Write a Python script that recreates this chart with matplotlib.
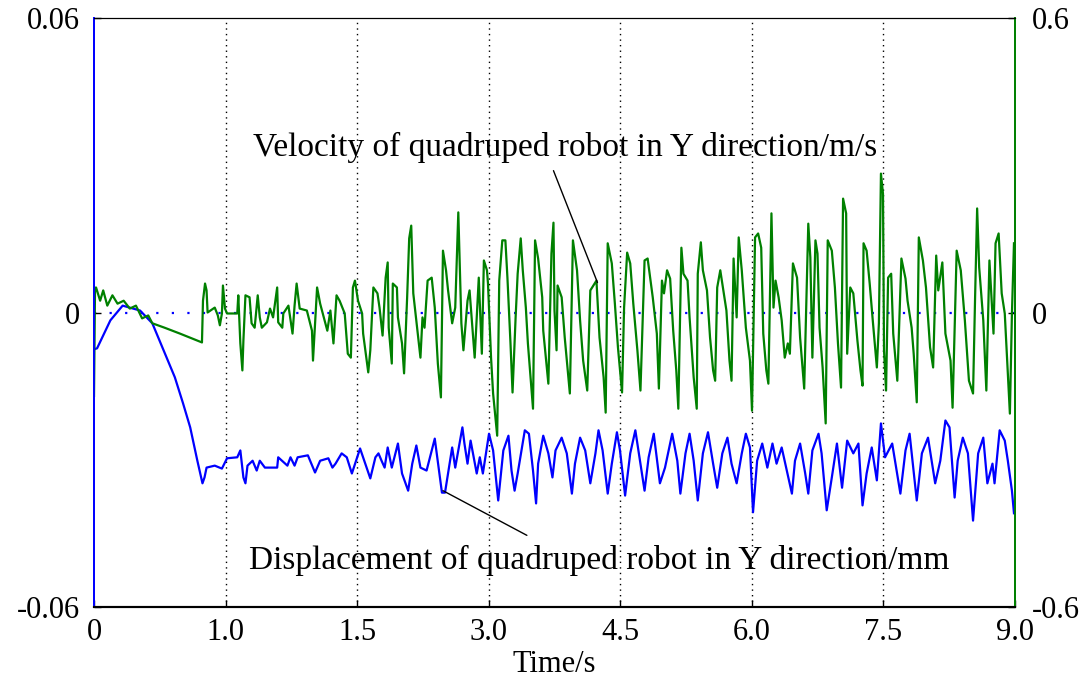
import matplotlib
matplotlib.use("Agg")
import matplotlib.pyplot as plt
import numpy as np

# ---------------- data ----------------
# velocity of quadruped robot in Y direction (m/s), right axis
vel_t = [0.00, 0.01, 0.02, 0.06, 0.09, 0.13, 0.18, 0.23, 0.29, 0.35, 0.41, 0.47, 0.53, 0.57, 0.69, 0.84,
         1.055, 1.065, 1.085, 1.10, 1.11, 1.18, 1.21, 1.23, 1.25, 1.26, 1.28, 1.30, 1.40, 1.41, 1.43, 1.45,
         1.46, 1.48, 1.52, 1.54, 1.57, 1.60, 1.62, 1.64, 1.69, 1.72, 1.75, 1.79, 1.80, 1.84, 1.85, 1.90,
         1.94, 1.96, 1.98, 2.01, 2.08, 2.13, 2.14, 2.18, 2.21, 2.28, 2.31, 2.34, 2.37, 2.40, 2.45, 2.48,
         2.51, 2.53, 2.55, 2.58, 2.62, 2.63, 2.68, 2.70, 2.73, 2.77, 2.79, 2.82, 2.85, 2.87, 2.88, 2.91,
         2.92, 2.96, 2.97, 3.01, 3.03, 3.06, 3.08, 3.10, 3.12, 3.16, 3.19, 3.21, 3.23, 3.26, 3.30, 3.33,
         3.36, 3.39, 3.41, 3.44, 3.46, 3.50, 3.53, 3.56, 3.59, 3.61, 3.65, 3.67, 3.69, 3.72, 3.76, 3.79,
         3.81, 3.84, 3.85, 3.88, 3.90, 3.94, 3.96, 3.99, 4.02, 4.04, 4.07, 4.09, 4.12, 4.14, 4.17, 4.19,
         4.22, 4.24, 4.29, 4.31, 4.34, 4.38, 4.39, 4.44, 4.47, 4.49, 4.50, 4.52, 4.53, 4.57, 4.60, 4.65,
         4.68, 4.72, 4.75, 4.78, 4.82, 4.85, 4.91, 4.94, 4.98, 5.00, 5.02, 5.06, 5.09, 5.12, 5.16, 5.18,
         5.21, 5.24, 5.27, 5.31, 5.34, 5.38, 5.41, 5.46, 5.50, 5.52, 5.55, 5.57, 5.60, 5.63, 5.66, 5.69,
         5.71, 5.74, 5.76, 5.80, 5.82, 5.86, 5.89, 5.90, 5.93, 5.95, 5.99, 6.02, 6.05, 6.07, 6.09, 6.12,
         6.15, 6.18, 6.21, 6.23, 6.25, 6.28, 6.30, 6.33, 6.37, 6.41, 6.43, 6.46, 6.49, 6.52, 6.54, 6.57,
         6.59, 6.62, 6.64, 6.66, 6.69, 6.72, 6.75, 6.78, 6.80, 6.83, 6.87, 6.90, 6.94, 6.98, 7.00, 7.02,
         7.05, 7.07, 7.09, 7.12, 7.15, 7.17, 7.21, 7.24, 7.27, 7.30, 7.32, 7.35, 7.36, 7.39, 7.42, 7.46,
         7.49, 7.51, 7.52, 7.55, 7.58, 7.61, 7.65, 7.67, 7.69, 7.71, 7.72, 7.74, 7.76, 7.79, 7.81, 7.85,
         7.89, 7.93, 7.95, 7.99, 8.01, 8.04, 8.06, 8.10, 8.13, 8.17, 8.20, 8.23, 8.25, 8.29, 8.32, 8.37,
         8.39, 8.43, 8.47, 8.51, 8.55, 8.59, 8.61, 8.63, 8.65, 8.69, 8.72, 8.75, 8.79, 8.81, 8.84, 8.87,
         8.90, 8.95, 8.97, 8.99]
vel_v = [-0.170, 0.050, 0.051, 0.024, 0.045, 0.014, 0.035, 0.018, 0.024, 0.008, 0.014, -0.012, -0.006, -0.022, -0.031, -0.043,
         -0.061, 0.024, 0.059, 0.045, 0.000, 0.010, -0.006, -0.026, -0.002, 0.055, 0.008, -0.002, -0.002, 0.035, -0.063, -0.118,
         -0.057, 0.035, 0.031, -0.022, -0.031, 0.035, -0.010, -0.031, -0.020, 0.008, -0.010, 0.051, -0.020, -0.031, -0.002, 0.014,
         -0.043, 0.014, 0.059, 0.008, 0.004, -0.037, -0.098, 0.051, 0.018, -0.037, 0.004, -0.063, 0.035, 0.024, -0.002, -0.084,
         -0.092, 0.051, 0.065, 0.024, -0.002, -0.043, -0.122, -0.077, 0.051, 0.039, 0.010, -0.047, 0.071, 0.102, -0.031, -0.104,
         0.059, 0.051, -0.010, -0.063, -0.124, 0.031, 0.151, 0.177, 0.039, -0.037, -0.092, -0.010, -0.031, 0.065, 0.071, 0.010,
         -0.104, -0.173, 0.126, 0.086, 0.045, -0.022, 0.010, 0.204, -0.022, -0.077, 0.024, 0.045, -0.010, -0.092, 0.071, -0.084,
         0.106, 0.086, 0.059, -0.092, -0.165, -0.251, 0.065, 0.147, 0.147, 0.071, -0.063, -0.163, -0.010, 0.079, 0.151, 0.086,
         0.010, -0.063, -0.196, 0.147, 0.110, 0.031, -0.037, -0.145, 0.120, 0.183, 0.004, -0.077, 0.055, 0.031, -0.051, -0.165,
         0.147, 0.086, -0.016, -0.098, -0.159, 0.045, 0.065, -0.051, -0.132, -0.204, 0.141, 0.100, 0.018, -0.071, -0.163, 0.010,
         0.122, 0.100, 0.018, -0.077, -0.159, 0.106, 0.110, 0.031, -0.043, -0.155, 0.065, 0.039, 0.086, 0.069, -0.037, -0.118,
         -0.196, 0.132, 0.079, 0.065, -0.010, -0.132, -0.196, 0.079, 0.143, 0.086, 0.045, -0.051, -0.118, -0.139, 0.051, 0.086,
         0.045, 0.004, -0.098, -0.139, 0.110, -0.010, 0.153, 0.086, -0.031, -0.098, -0.200, 0.153, 0.161, 0.132, -0.043, -0.118,
         -0.145, 0.202, 0.010, 0.065, 0.031, -0.016, -0.092, -0.063, -0.084, 0.100, 0.071, -0.051, -0.155, 0.181, 0.112, -0.092,
         0.147, 0.120, -0.031, -0.112, -0.226, 0.147, 0.126, 0.051, -0.063, -0.153, 0.232, 0.202, -0.084, 0.051, 0.039, -0.057,
         -0.118, -0.149, 0.141, 0.126, 0.059, -0.016, -0.112, -0.022, 0.283, 0.242, -0.077, -0.159, 0.071, 0.079, -0.043, -0.139,
         0.110, 0.069, 0.024, -0.031, -0.084, -0.183, 0.153, 0.106, 0.051, -0.071, -0.112, 0.116, 0.045, 0.102, -0.043, -0.098,
         -0.194, 0.126, 0.086, -0.016, -0.139, -0.165, 0.031, 0.212, 0.092, -0.016, -0.159, 0.106, -0.043, 0.141, 0.161, 0.039,
         -0.002, -0.206, -0.002, 0.141]

# displacement of quadruped robot in Y direction (mm), left axis
disp_t = [0.00, 0.03, 0.16, 0.28, 0.45, 0.57, 0.66, 0.79, 0.87, 0.94, 1.01, 1.06, 1.08, 1.10, 1.18, 1.25,
          1.30, 1.40, 1.43, 1.46, 1.48, 1.50, 1.55, 1.59, 1.62, 1.67, 1.79, 1.80, 1.89, 1.92, 1.96, 1.99,
          2.09, 2.16, 2.21, 2.29, 2.33, 2.36, 2.42, 2.47, 2.52, 2.60, 2.70, 2.75, 2.78, 2.81, 2.84, 2.87,
          2.91, 2.97, 3.01, 3.07, 3.11, 3.15, 3.19, 3.25, 3.33, 3.40, 3.43, 3.50, 3.53, 3.60, 3.62, 3.65,
          3.68, 3.74, 3.77, 3.80, 3.86, 3.90, 3.95, 4.00, 4.05, 4.08, 4.11, 4.14, 4.21, 4.25, 4.29, 4.32,
          4.34, 4.39, 4.44, 4.48, 4.51, 4.57, 4.62, 4.67, 4.70, 4.75, 4.80, 4.85, 4.90, 4.93, 4.97, 5.02,
          5.06, 5.11, 5.14, 5.19, 5.24, 5.29, 5.34, 5.38, 5.42, 5.47, 5.53, 5.58, 5.65, 5.70, 5.73, 5.78,
          5.82, 5.86, 5.90, 5.95, 6.00, 6.05, 6.09, 6.14, 6.19, 6.23, 6.28, 6.33, 6.37, 6.41, 6.44, 6.48,
          6.53, 6.58, 6.63, 6.67, 6.72, 6.77, 6.82, 6.85, 6.90, 6.95, 6.98, 7.02, 7.08, 7.11, 7.16, 7.21,
          7.26, 7.31, 7.36, 7.42, 7.47, 7.51, 7.55, 7.60, 7.65, 7.69, 7.73, 7.80, 7.88, 7.93, 7.97, 8.04,
          8.09, 8.15, 8.22, 8.27, 8.32, 8.36, 8.41, 8.44, 8.49, 8.54, 8.59, 8.64, 8.69, 8.73, 8.78, 8.80,
          8.85, 8.90, 8.93, 8.97, 8.99]
disp_v = [-0.0075, -0.0073, -0.0016, 0.0014, 0.0004, -0.0022, -0.0067, -0.0132, -0.0185, -0.0234, -0.0302, -0.0348, -0.0336, -0.0316, -0.0312, -0.0318,
          -0.0297, -0.0295, -0.0281, -0.0336, -0.0348, -0.0312, -0.0302, -0.0322, -0.0302, -0.0316, -0.0316, -0.0295, -0.0312, -0.0295, -0.0312, -0.0295,
          -0.0291, -0.0326, -0.0302, -0.0297, -0.0316, -0.0308, -0.0287, -0.0295, -0.0328, -0.0277, -0.0338, -0.0295, -0.0287, -0.0302, -0.0316, -0.0275,
          -0.0316, -0.0267, -0.0328, -0.0363, -0.0308, -0.0271, -0.0316, -0.0322, -0.0257, -0.0367, -0.0367, -0.0275, -0.0316, -0.0234, -0.0267, -0.0308,
          -0.0261, -0.0328, -0.0295, -0.0328, -0.0247, -0.0281, -0.0383, -0.0281, -0.0251, -0.0322, -0.0363, -0.0328, -0.0240, -0.0247, -0.0322, -0.0389,
          -0.0308, -0.0251, -0.0287, -0.0336, -0.0281, -0.0255, -0.0287, -0.0369, -0.0308, -0.0255, -0.0281, -0.0348, -0.0287, -0.0240, -0.0281, -0.0369,
          -0.0308, -0.0244, -0.0281, -0.0373, -0.0287, -0.0240, -0.0308, -0.0363, -0.0295, -0.0247, -0.0348, -0.0316, -0.0247, -0.0302, -0.0369, -0.0287,
          -0.0247, -0.0302, -0.0383, -0.0287, -0.0244, -0.0308, -0.0357, -0.0287, -0.0255, -0.0308, -0.0348, -0.0287, -0.0247, -0.0275, -0.0407, -0.0302,
          -0.0267, -0.0316, -0.0267, -0.0308, -0.0275, -0.0322, -0.0369, -0.0302, -0.0267, -0.0328, -0.0369, -0.0281, -0.0247, -0.0287, -0.0403, -0.0336,
          -0.0267, -0.0357, -0.0261, -0.0287, -0.0267, -0.0393, -0.0328, -0.0275, -0.0342, -0.0226, -0.0295, -0.0267, -0.0369, -0.0281, -0.0247, -0.0383,
          -0.0287, -0.0255, -0.0348, -0.0302, -0.0220, -0.0234, -0.0377, -0.0302, -0.0255, -0.0287, -0.0424, -0.0287, -0.0255, -0.0348, -0.0308, -0.0348,
          -0.0240, -0.0261, -0.0302, -0.0363, -0.0409]

x_tick_labels = ["0", "1.0", "1.5", "3.0", "4.5", "6.0", "7.5", "9.0"]
left_tick_labels = ["-0.06", "0", "0.06"]
right_tick_labels = ["-0.6", "0", "0.6"]
vel_label = "Velocity of quadruped robot in Y direction/m/s"
disp_label = "Displacement of quadruped robot in Y direction/mm"
x_label = "Time/s"

# ---------------- drawing ----------------
plt.rcParams['font.family'] = ['Liberation Serif', 'DejaVu Serif']
BLUE = '#0000ff'
GREEN = '#008000'

fig = plt.figure(figsize=(10.89, 6.82), dpi=100)
ax1 = fig.add_axes([94/1089, 1-607/682, (1015-94)/1089, (607-18)/682])
ax2 = ax1.twinx()

x_ticks = np.linspace(0, 9, len(x_tick_labels))
ax1.set_xlim(0, 9)
ax1.set_ylim(-0.06, 0.06)
ax2.set_ylim(-0.6, 0.6)

# dotted verticals at the inner ticks and blue dotted zero line
for xt in x_ticks[1:-1]:
    ax1.axvline(xt, color='black', ls=(0, (1, 3)), lw=1.0, zorder=1)
ax1.axhline(0, color=BLUE, ls=(0, (1, 6)), lw=1.6, zorder=1)

ax1.plot(disp_t, disp_v, color=BLUE, lw=1.6, zorder=3)
ax2.plot(vel_t, vel_v, color=GREEN, lw=1.6, zorder=2)

ax1.set_xticks(x_ticks)
ax1.set_xticklabels(x_tick_labels)
ax1.set_yticks([-0.06, 0, 0.06])
ax1.set_yticklabels(left_tick_labels)
ax2.set_yticks([-0.6, 0, 0.6])
ax2.set_yticklabels(right_tick_labels)

for ax in (ax1, ax2):
    ax.tick_params(direction='in', length=5, width=1, labelsize=22)
ax1.tick_params(axis='x', pad=8)
ax1.tick_params(axis='y', pad=10)
ax2.tick_params(axis='y', pad=12)

ax1.set_xlabel(x_label, fontsize=22, labelpad=2)

ax1.spines['left'].set_color(BLUE)
ax2.spines['left'].set_color(BLUE)
ax2.spines['right'].set_color(GREEN)
ax1.spines['right'].set_color(GREEN)
ax1.spines['bottom'].set_linewidth(1.5)
ax2.spines['bottom'].set_linewidth(1.5)
for s in ('left', 'right'):
    ax1.spines[s].set_linewidth(1.3)
    ax2.spines[s].set_linewidth(1.3)

# annotation texts and leader lines (velocity-axis data coordinates)
ax2.text(4.60, 0.336, vel_label, ha='center', va='center', fontsize=24)
ax2.annotate('', xy=(4.92, 0.061), xytext=(4.49, 0.289),
             arrowprops=dict(arrowstyle='-', color='black', lw=1.0, shrinkA=0, shrinkB=0))
ax2.text(4.94, -0.505, disp_label, ha='center', va='center', fontsize=24)
ax2.annotate('', xy=(3.41, -0.363), xytext=(4.23, -0.454),
             arrowprops=dict(arrowstyle='-', color='black', lw=1.0, shrinkA=0, shrinkB=0))

fig.savefig("out.png", dpi=100)
